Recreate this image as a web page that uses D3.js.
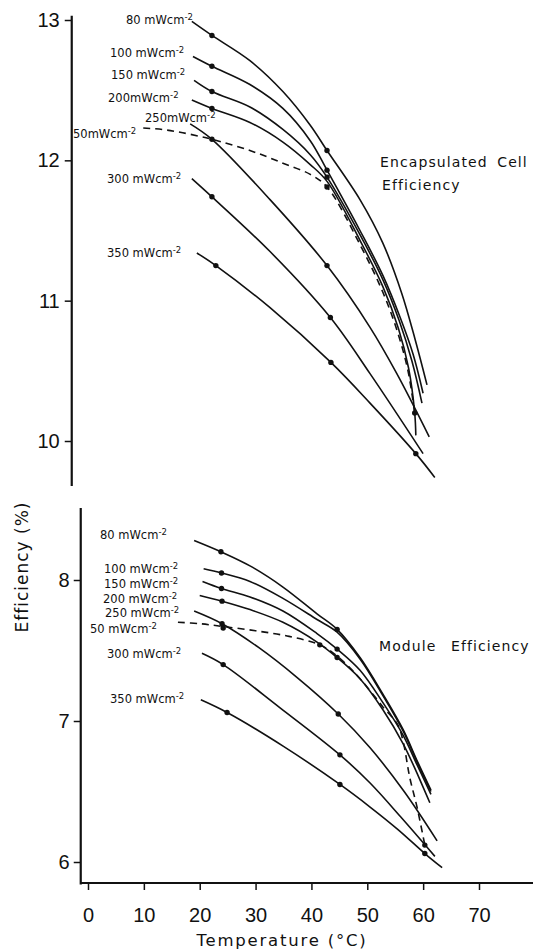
<!DOCTYPE html>
<html>
<head>
<meta charset="utf-8">
<script src="https://cdn.jsdelivr.net/npm/d3@7"></script>
<style>
  html, body { margin: 0; padding: 0; background: #fff; }
  svg { display: block; }
  text { fill: #111; }
</style>
</head>
<body>
<svg id="chart" width="533" height="949"></svg>
<script>
// Irradiance levels (mW cm^-2), one curve each; 50 is drawn dashed
const irradiance = [80, 100, 150, 200, 250, 50, 300, 350];
const dashedLevel = 50;

const tempTicks = [0, 10, 20, 30, 40, 50, 60, 70];
const cellTicks = [10, 11, 12, 13];
const moduleTicks = [6, 7, 8];

// Encapsulated cell efficiency (%) vs temperature (°C): smooth curve points per level
const cellCurves = [
  [[20.2,12.99],[23.8,12.89],[30.6,12.71],[36.5,12.49],[41.4,12.25],[44.4,12.07],[50.3,11.72],[54.4,11.41],[57.8,11.05],[60.2,10.72],[62.3,10.40]],
  [[20.4,12.74],[23.8,12.67],[30.6,12.54],[36.5,12.37],[41.4,12.14],[44.4,11.93],[50.3,11.50],[54.4,11.18],[57.5,10.88],[59.8,10.62],[61.6,10.34]],
  [[20.6,12.57],[23.8,12.49],[30.6,12.38],[36.5,12.22],[41.4,12.04],[44.4,11.88],[50.3,11.47],[54.4,11.15],[57.3,10.86],[59.6,10.57],[61.4,10.27]],
  [[20.2,12.43],[23.8,12.37],[30.6,12.27],[36.5,12.13],[41.4,11.97],[44.4,11.85],[50.3,11.43],[54.4,11.10],[57.2,10.80],[59.0,10.52],[60.1,10.20],[60.3,10.04]],
  [[19.9,12.26],[23.8,12.15],[34.2,11.72],[44.4,11.25],[52.1,10.81],[56.9,10.48],[62.7,10.03]],
  [[11.5,12.23],[14.9,12.22],[18.1,12.20],[21.7,12.17],[23.8,12.15],[30.6,12.07],[36.5,11.98],[41.4,11.90],[44.4,11.81],[50.3,11.40],[54.4,11.06],[57.0,10.78],[58.9,10.50],[60.1,10.20]],
  [[20.2,11.87],[23.8,11.74],[34.2,11.35],[45.0,10.88],[52.1,10.48],[61.6,9.91]],
  [[21.1,11.34],[24.5,11.25],[34.2,10.95],[45.1,10.56],[52.1,10.27],[60.3,9.91],[63.7,9.74]]
];

// Measured cell points
const cellMarkers = [
  [[23.8,12.89],[44.4,12.07]],
  [[23.8,12.67],[44.4,11.93]],
  [[23.8,12.49],[44.4,11.88]],
  [[23.8,12.37]],
  [[23.8,12.15],[44.4,11.25]],
  [[44.4,11.81],[60.1,10.20]],
  [[23.8,11.74],[45.0,10.88]],
  [[24.5,11.25],[45.1,10.56],[60.3,9.91]]
];

// Module efficiency (%) vs temperature (°C)
const moduleCurves = [
  [[19.0,8.28],[23.8,8.20],[29.0,8.10],[34.9,7.95],[41.0,7.76],[44.6,7.65],[48.7,7.45],[52.8,7.19],[56.4,6.94],[58.9,6.72],[61.4,6.51]],
  [[20.7,8.08],[23.9,8.05],[29.0,7.99],[34.9,7.87],[41.0,7.72],[44.6,7.63],[48.7,7.44],[52.8,7.18],[56.4,6.93],[58.9,6.71],[61.4,6.50]],
  [[20.5,7.99],[23.9,7.94],[29.0,7.88],[34.9,7.78],[41.0,7.62],[44.6,7.51],[48.7,7.36],[52.8,7.13],[56.4,6.90],[58.9,6.69],[61.4,6.48]],
  [[20.0,7.89],[24.0,7.85],[29.0,7.79],[34.9,7.70],[41.0,7.56],[44.6,7.45],[48.7,7.30],[52.8,7.08],[56.4,6.84],[58.9,6.63],[61.2,6.42]],
  [[19.0,7.78],[24.0,7.69],[30.6,7.52],[37.4,7.31],[44.8,7.05],[50.5,6.81],[56.6,6.50],[62.5,6.15]],
  [[16.1,7.70],[20.0,7.69],[24.2,7.67],[30.0,7.64],[36.0,7.60],[41.5,7.54],[44.6,7.46],[48.7,7.30],[52.8,7.10],[55.5,6.97],[56.5,6.84],[57.6,6.60],[58.9,6.39],[60.3,6.12]],
  [[20.4,7.48],[24.2,7.40],[34.5,7.09],[45.1,6.76],[50.5,6.56],[56.2,6.31],[62.1,6.04]],
  [[20.2,7.15],[24.9,7.06],[35.0,6.82],[45.1,6.55],[50.5,6.39],[55.5,6.23],[60.3,6.06],[63.4,5.96]]
];

// Measured module points
const moduleMarkers = [
  [[23.8,8.20],[44.6,7.65]],
  [[23.9,8.05]],
  [[23.9,7.94],[44.6,7.51]],
  [[24.0,7.85],[44.6,7.45]],
  [[24.0,7.69],[44.8,7.05]],
  [[24.2,7.66],[41.5,7.54],[60.3,6.12]],
  [[24.2,7.40],[45.1,6.76]],
  [[24.9,7.06],[45.1,6.55],[60.3,6.06]]
];

// ---- layout ----
const svg = d3.select("#chart");
const x = d3.scaleLinear().domain([0, 70]).range([88, 479]);
const yCell = d3.scaleLinear().domain([10, 13]).range([441, 20]);
const yModule = d3.scaleLinear().domain([6, 8]).range([862, 580]);
const xAxisY = 883;
const axisStartT = -1.3;
const cellShift = -9;     // upper panel sits a little to the left

// label anchor points [x, baseline] and whether a space precedes the unit
const cellLabelPos = [[126,24,1],[110,57,1],[111,79,1],[108,102,0],[145,122,0],[73,138,0],[107,183,1],[107,257,1]];
const moduleLabelPos = [[100,539,1],[104,573,1],[104,588,1],[103,603,1],[105,617,1],[90,633,1],[107,658,1],[110,703,1]];

function drawPanel(g, y, curves, markers, labelPos, shift, axisRange, ticks, tickPad) {
  const line = d3.line()
    .x(d => x(d[0]))
    .y(d => y(d[1]))
    .curve(d3.curveCatmullRom.alpha(0.5));

  const panel = g.append("g").attr("transform", `translate(${shift},0)`);

  panel.selectAll("path.curve")
    .data(curves)
    .join("path")
    .attr("class", "curve")
    .attr("d", line)
    .attr("fill", "none")
    .attr("stroke", "#111")
    .attr("stroke-width", 1.6)
    .attr("stroke-dasharray", (d, i) => irradiance[i] === dashedLevel ? "7,5" : null);

  panel.selectAll("g.marks")
    .data(markers)
    .join("g")
    .attr("class", "marks")
    .selectAll("circle")
    .data(d => d)
    .join("circle")
    .attr("cx", d => x(d[0]))
    .attr("cy", d => y(d[1]))
    .attr("r", 2.7)
    .attr("fill", "#111");

  // y axis
  const axis = d3.axisLeft(y).tickValues(ticks).tickSize(7).tickPadding(tickPad)
    .tickFormat(d3.format("d"));
  const ax = panel.append("g")
    .attr("transform", `translate(${x(axisStartT)},0)`)
    .call(axis);
  ax.select(".domain").remove();
  ax.selectAll(".tick line").attr("stroke", "#111").attr("stroke-width", 1.5);
  ax.selectAll(".tick text")
    .style("font-family", "'Liberation Sans', Arial, sans-serif")
    .style("font-size", "20px")
    .attr("fill", "#111");
  panel.append("line")
    .attr("x1", x(axisStartT)).attr("x2", x(axisStartT))
    .attr("y1", y(axisRange[0])).attr("y2", y(axisRange[1]))
    .attr("stroke", "#111").attr("stroke-width", 2.2);

  // irradiance labels
  const lab = g.selectAll(null)
    .data(irradiance)
    .enter()
    .append("text")
    .attr("x", (d, i) => labelPos[i][0])
    .attr("y", (d, i) => labelPos[i][1])
    .style("font-family", "'DejaVu Sans', sans-serif")
    .style("font-size", "11.5px");
  lab.append("tspan").text((d, i) => d + (labelPos[i][2] ? " mWcm" : "mWcm"));
  lab.append("tspan").attr("dy", -4).style("font-size", "8.5px").text("-2");
}

const cellPanel = svg.append("g");
drawPanel(cellPanel, yCell, cellCurves, cellMarkers, cellLabelPos, cellShift, [9.68, 13.03], cellTicks, 5);

const modulePanel = svg.append("g");
drawPanel(modulePanel, yModule, moduleCurves, moduleMarkers, moduleLabelPos, 0, [5.84, 8.51], moduleTicks, 4);

// x axis (shared temperature scale)
const xAxis = d3.axisBottom(x).tickValues(tempTicks).tickSize(7).tickPadding(18)
  .tickFormat(d3.format("d"));
const xa = svg.append("g").attr("transform", `translate(0,${xAxisY})`).call(xAxis);
xa.select(".domain").remove();
xa.selectAll(".tick line").attr("stroke", "#111").attr("stroke-width", 1.5);
xa.selectAll(".tick text")
  .style("font-family", "'Liberation Sans', Arial, sans-serif")
  .style("font-size", "20px")
  .attr("fill", "#111");
svg.append("line")
  .attr("x1", x(axisStartT)).attr("x2", 533)
  .attr("y1", xAxisY).attr("y2", xAxisY)
  .attr("stroke", "#111").attr("stroke-width", 2.2);

// titles
svg.append("text")
  .attr("x", 282).attr("y", 946)
  .attr("text-anchor", "middle")
  .style("font-family", "'DejaVu Sans', sans-serif")
  .style("font-size", "16.5px")
  .style("letter-spacing", "1.8px")
  .text("Temperature (°C)");

svg.append("text")
  .attr("transform", "translate(28,567) rotate(-90)")
  .attr("text-anchor", "middle")
  .style("font-family", "'DejaVu Sans', sans-serif")
  .style("font-size", "17px")
  .style("letter-spacing", "1px")
  .text("Efficiency (%)");

const annoStyle = s => s
  .style("font-family", "'DejaVu Sans', sans-serif")
  .style("font-size", "14px")
  .style("letter-spacing", "1.1px");

annoStyle(svg.append("text").attr("x", 380).attr("y", 167).style("word-spacing", "4px").text("Encapsulated Cell"));
annoStyle(svg.append("text").attr("x", 382).attr("y", 190).text("Efficiency"));
annoStyle(svg.append("text").attr("x", 379).attr("y", 651).style("word-spacing", "9px").text("Module Efficiency"));
</script>
</body>
</html>
